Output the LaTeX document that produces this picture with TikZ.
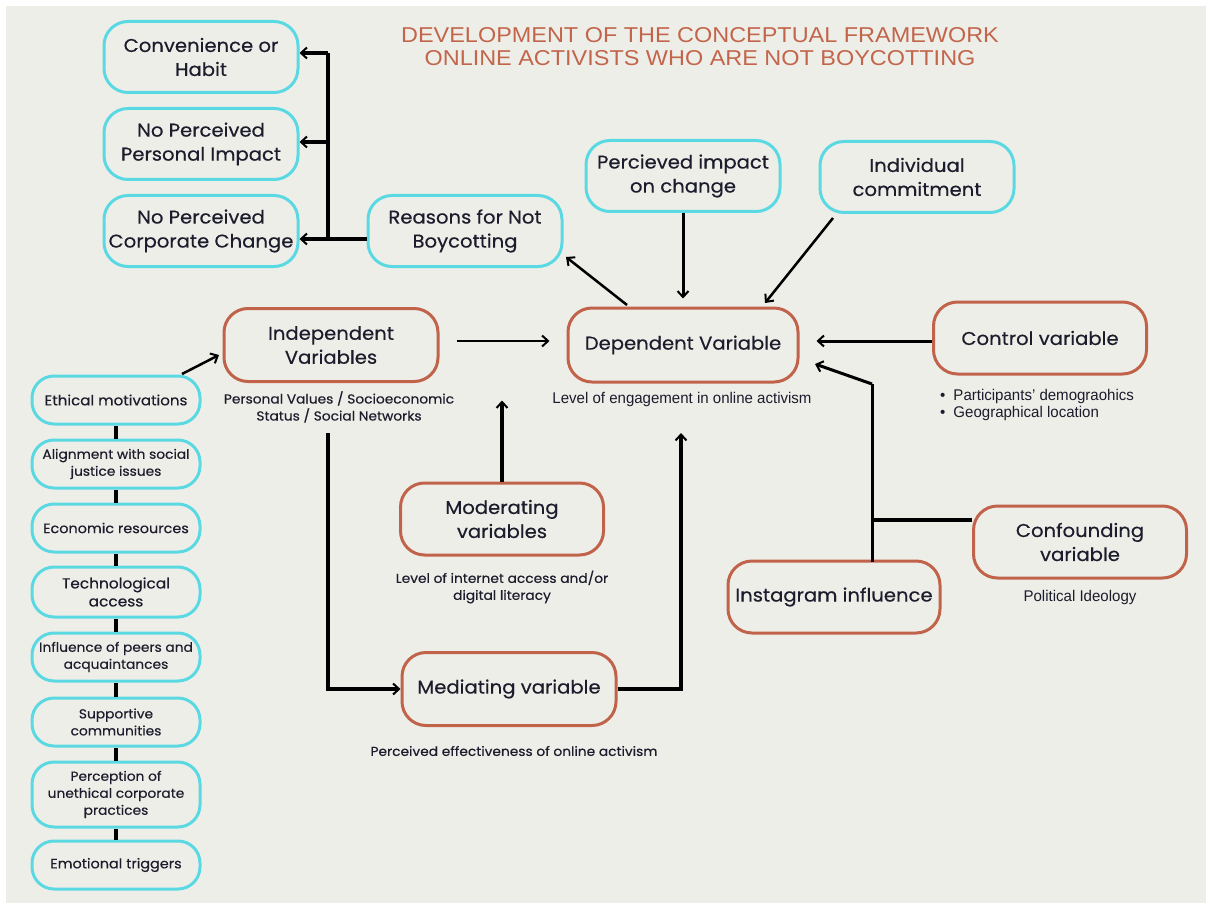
\documentclass[tikz,border=0pt]{standalone}
\usepackage{fontspec}
\setmainfont{Poppins}[FakeStretch=1.06, FakeBold=0.4]
\newfontfamily\titlefont{Liberation Sans}[FakeStretch=1.09]
\newfontfamily\condfont{Liberation Sans}[FakeStretch=0.97]
\usetikzlibrary{arrows.meta}
\definecolor{bgc}{HTML}{EEEEE9}
\definecolor{cyanc}{HTML}{5BD9E3}
\definecolor{brownc}{HTML}{C0634A}
\definecolor{titlec}{HTML}{C2654B}
\definecolor{txt}{HTML}{1C1C2C}
\tikzset{
  boxtext/.style={text=txt, align=center, inner sep=0pt},
  cbox/.style={boxtext, draw=cyanc, line width=3pt, rounded corners=24pt, minimum width=194pt, minimum height=71pt, font=\fontsize{18.5}{24}\selectfont},
  obox/.style={boxtext, draw=brownc, line width=3pt, rounded corners=24pt, minimum width=213pt, minimum height=73pt, font=\fontsize{18.5}{24}\selectfont},
  lbox/.style={boxtext, draw=cyanc, line width=3pt, rounded corners=22pt, minimum width=168pt, minimum height=48pt, font=\fontsize{13}{17}\selectfont},
  sub/.style={text=txt, align=center, inner sep=0pt, font=\fontsize{13}{17}\selectfont},
  cond/.style={text=txt, align=center, inner sep=0pt, font=\condfont\fontsize{15.5}{17}\selectfont},
  arr/.style={draw=black, line width=#1, -{Straight Barb[length=6pt,width=11pt,line width=2pt]}},
  lnk/.style={draw=black, line width=#1},
}
\begin{document}
\begin{tikzpicture}[x=1pt,y=-1pt]
\useasboundingbox (0,0) rectangle (1206,909);
\fill[white] (0,0) rectangle (1206,909);
\fill[bgc] (6,6) rectangle (1206,903);

% title
\node[text=titlec, align=center, inner sep=0pt, font=\titlefont\fontsize{21.5}{23}\selectfont] (title) at (700,47) {DEVELOPMENT OF THE CONCEPTUAL FRAMEWORK\\ONLINE ACTIVISTS WHO ARE NOT BOYCOTTING};

% reasons group
\node[cbox] (conv) at (201,57) {Convenience or\\Habit};
\node[cbox] (pers) at (201,144) {No Perceived\\Personal Impact};
\node[cbox] (corp) at (201,231) {No Perceived\\Corporate Change};
\node[cbox] (reas) at (465,231) {Reasons for Not\\Boycotting};

\coordinate (rj) at (328,239);
\coordinate (rtop) at (328,53);
\draw[lnk=4pt] ([yshift=-8pt]reas.west) -- (rj);
\draw[lnk=4pt] (rj) -- (rtop);
\draw[arr=4pt] (rtop) -- (rtop -| conv.east);
\draw[arr=4pt] (328,142) -- (pers.east |- 0,142);
\draw[arr=4pt] (rj) -- (rj -| corp.east);

% top boxes
\node[cbox] (perc) at (683,176) {Percieved impact\\on change};
\node[cbox] (indiv) at (917,177) {Individual\\commitment};

% main boxes
\node[obox, minimum width=230pt, minimum height=74pt] (dep) at (683,345) {Dependent Variable};
\node[obox, minimum width=214pt] (ind) at (331,345) {Independent\\Variables};
\node[obox, minimum width=213pt, minimum height=72pt] (ctrl) at (1040,338) {Control variable};
\node[obox, minimum width=203pt, minimum height=72pt] (mod) at (502,519) {Moderating\\variables};
\node[obox, minimum width=214pt, minimum height=73pt] (med) at (509,689) {Mediating variable};
\node[obox, minimum width=213pt, minimum height=72pt] (conf) at (1080,542) {Confounding\\variable};
\node[obox, minimum width=212pt, minimum height=72pt] (insta) at (834,597) {Instagram influence};

% sub labels
\node[cond] (deplab) at (682,399) {Level of engagement in online activism};
\node[sub] (indlab) at (339,407) {Personal Values / Socioeconomic\\Status / Social Networks};
\node[sub] (modlab) at (502,587) {Level of internet access and/or\\digital literacy};
\node[sub] (medlab) at (514,751) {Perceived effectiveness of online activism};
\node[cond, anchor=west, align=left] (ctrllab) at (940,404.5) {\textbullet\hspace{8pt}Participants’ demograohics\\\textbullet\hspace{8pt}Geographical location};
\node[cond] (conflab) at (1080,597) {Political Ideology};

% left column
\node[lbox, font=\fontsize{14.2}{17}\selectfont] (eth) at (116,400) {Ethical motivations};
\node[lbox] (ali) at (116,464) {Alignment with social\\justice issues};
\node[lbox, font=\fontsize{13.6}{17}\selectfont] (eco) at (116,528) {Economic resources};
\node[lbox, minimum height=50pt, font=\fontsize{14.5}{18}\selectfont] (tech) at (116,592) {Technological\\access};
\node[lbox] (infl) at (116,657) {Influence of peers and\\acquaintances};
\node[lbox] (supp) at (116,722) {Supportive\\communities};
\node[lbox, minimum height=65pt] (perp) at (116,794.5) {Perception of\\unethical corporate\\practices};
\node[lbox, font=\fontsize{13.6}{17}\selectfont] (emo) at (116,865) {Emotional triggers};

\foreach \a/\b in {eth/ali, ali/eco, eco/tech, tech/infl, infl/supp, supp/perp, perp/emo}
  \draw[lnk=4.5pt] (\a.south) -- (\b.north);

% connectors
\coordinate (ethA) at (182,374);
\coordinate (indA) at (219,355);
\draw[arr=2.5pt] (ethA) -- (indA);

\draw[arr=2pt] ([xshift=17pt,yshift=4pt]ind.east) -- ([xshift=-17pt,yshift=4pt]dep.west);

\draw[arr=3pt] (perc.south) -- ([yshift=8pt]perc.south |- dep.north);

\coordinate (ivA) at (833,218);
\coordinate (ivB) at (765,303);
\draw[arr=2.5pt] (ivA) -- (ivB);

\coordinate (drA) at (627,305);
\coordinate (drB) at (566,257);
\draw[arr=2.5pt] (drA) -- (drB);

\draw[arr=3pt] ([yshift=-3pt]ctrl.west) -- ([xshift=17pt,yshift=-3pt]ctrl.west -| dep.east);

\draw[arr=3.5pt] (mod.north) -- ([yshift=-17pt]mod.north |- dep.south);

\coordinate (ms) at (328,433);
\draw[arr=4pt] (ms) |- (med.west);
\coordinate (mt) at (681,433);
\draw[arr=4pt] (med.east) -| (mt);

\coordinate (ib) at (872,562);
\coordinate (ik) at (872,384);
\coordinate (it) at (815,364);
\draw[lnk=3pt] (ib) -- (ik);
\draw[arr=3pt] (ik) -- (it);
\draw[lnk=3.5pt] ([yshift=22pt]conf.west) -- (ik |- 0,520);
\end{tikzpicture}
\end{document}
